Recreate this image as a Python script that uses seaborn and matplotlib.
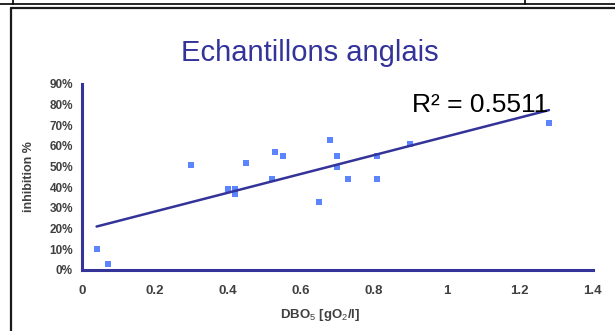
import numpy as np
import pandas as pd
import matplotlib
matplotlib.use("Agg")
import matplotlib.pyplot as plt
from matplotlib.lines import Line2D
import seaborn as sns

# === Data ===
dbo5 = [0.04, 0.07, 0.30, 0.40, 0.42, 0.42, 0.45, 0.52, 0.53, 0.55,
        0.65, 0.68, 0.70, 0.70, 0.73, 0.81, 0.81, 0.90, 1.28]
inhibition = [10, 3, 51, 39, 39, 37, 52, 44, 57, 55,
              33, 63, 55, 50, 44, 55, 44, 61, 71]
r2_label = "R² = 0.5511"
x_ticks = [0, 0.2, 0.4, 0.6, 0.8, 1, 1.2, 1.4]
x_tick_labels = ["0", "0.2", "0.4", "0.6", "0.8", "1", "1.2", "1.4"]
y_ticks = [0, 10, 20, 30, 40, 50, 60, 70, 80, 90]
y_tick_labels = [f"{v}%" for v in y_ticks]

W, H = 615, 331
NAVY = "#333399"
POINT = "#3366ff"
GREY = "#404040"

sns.set_theme(style="white")
plt.rcParams['font.family'] = ['Liberation Sans', 'DejaVu Sans']
plt.rcParams['mathtext.fontset'] = 'custom'
plt.rcParams['mathtext.rm'] = 'Liberation Sans'
plt.rcParams['mathtext.it'] = 'Liberation Sans'
plt.rcParams['mathtext.bf'] = 'Liberation Sans:bold'


def px(x, y):
    # pixel position (from top-left) -> figure fraction
    return x / W, 1 - y / H


df = pd.DataFrame({"dbo5": dbo5, "inhibition": inhibition})

fig = plt.figure(figsize=(W / 100, H / 100), dpi=100)
left, top = px(82, 84)
right, bottom = px(592.7, 270)
ax = fig.add_axes([left, bottom, right - left, top - bottom])

sns.regplot(
    data=df, x="dbo5", y="inhibition", ci=None, truncate=True, ax=ax, marker="s",
    scatter_kws=dict(s=14, color=POINT, linewidths=0, zorder=2),
    line_kws=dict(color=NAVY, lw=1.8, zorder=3),
)

ax.set_xlim(0, 1.4)
ax.set_ylim(0, 90)
ax.set_xticks(x_ticks)
ax.set_xticklabels(x_tick_labels, fontsize=9.5, fontweight="bold", color=GREY)
ax.set_yticks(y_ticks)
ax.set_yticklabels(y_tick_labels, fontsize=8.5, fontweight="bold", color=GREY)
ax.tick_params(axis="both", direction="inout", length=5, width=1.5, color=NAVY, pad=4)
ax.tick_params(axis="x", pad=8)

for side in ["top", "right"]:
    ax.spines[side].set_visible(False)
for side in ["left", "bottom"]:
    ax.spines[side].set_color(NAVY)
    ax.spines[side].set_linewidth(2.2)
ax.patch.set_alpha(0)

ax.set_xlabel("DBO$_5$ [gO$_2$/l]", fontsize=9.5, fontweight="bold", color=GREY)
ax.set_ylabel("inhibition %", fontsize=9, fontweight="bold", color=GREY)
ax.xaxis.set_label_coords(0.466, -0.20)
ax.yaxis.set_label_coords(-0.092, 0.5)

# Title and R² label
fig.text(*px(310, 53), "Echantillons anglais", ha="center", va="center",
         fontsize=21, color=NAVY)
fig.text(*px(548, 112), r2_label, ha="right", va="baseline",
         fontsize=19, color="black")

# Table / frame borders around the chart
def fig_line(xs, ys, lw, color="#1a1a1a"):
    pts = [px(x, y) for x, y in zip(xs, ys)]
    fig.add_artist(Line2D([p[0] for p in pts], [p[1] for p in pts],
                          transform=fig.transFigure, lw=lw, color=color))

fig_line([0, W], [4, 4], 1.2, "black")
fig_line([13, 13], [0, 4], 1.2, "black")
fig_line([525, 525], [0, 4], 1.2, "black")
fig_line([11, W], [7.5, 7.5], 1.6)
fig_line([11, 11], [7.5, H], 1.6)

fig.savefig("out.png", dpi=100)
plt.close(fig)
